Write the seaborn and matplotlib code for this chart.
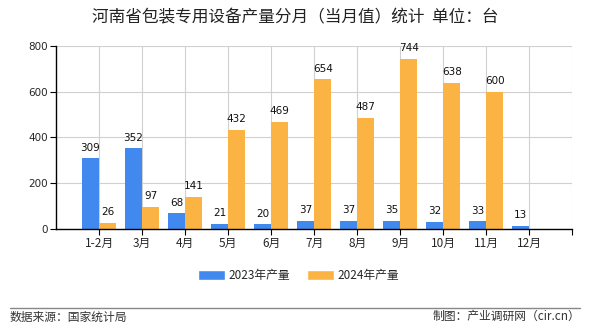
import matplotlib
matplotlib.use("Agg")
import matplotlib.pyplot as plt
import seaborn as sns
import pandas as pd
import numpy as np

categories = ["1-2月", "3月", "4月", "5月", "6月", "7月", "8月", "9月", "10月", "11月", "12月"]
series_names = ["2023年产量", "2024年产量"]
values_2023 = [309, 352, 68, 21, 20, 37, 37, 35, 32, 33, 13]
values_2024 = [26, 97, 141, 432, 469, 654, 487, 744, 638, 600, None]
y_ticks = [0, 200, 400, 600, 800]
colors = ["#4189EE", "#FBB443"]

sns.set_theme(style="white")
plt.rcParams['font.family'] = ['Noto Sans CJK SC', 'DejaVu Sans']

rows = []
for c, a, b in zip(categories, values_2023, values_2024):
    rows.append({"month": c, "series": series_names[0], "value": a})
    rows.append({"month": c, "series": series_names[1], "value": b if b is not None else np.nan})
df = pd.DataFrame(rows)

fig = plt.figure(figsize=(5.9, 3.3), dpi=100)
ax = fig.add_axes([0.095, 0.306, 0.875, 0.555])

# empty leading slot so categories sit on integer positions 1..11
order = [""] + categories
sns.barplot(data=df, x="month", y="value", hue="series", order=order,
            palette=colors, width=0.8, saturation=1, ax=ax, legend=True)

n = len(categories)
for i, cont in enumerate(ax.containers):
    for bar in cont:
        bar.set_linewidth(0)

for i, cont in enumerate(ax.containers):
    vals = values_2023 if i == 0 else values_2024
    bars = list(cont)[-n:]
    for bar, v in zip(bars, vals):
        if v is None:
            continue
        ax.text(bar.get_x() + bar.get_width() / 2, bar.get_height() + 25, str(v),
                ha="center", va="bottom", fontsize=7.5, family="DejaVu Sans", color="#111")

ax.set_xlim(0, 12)
ax.set_ylim(0, 800)
ax.set_yticks(y_ticks)
ax.set_yticklabels([str(t) for t in y_ticks], fontsize=7.5, family="DejaVu Sans")
ax.set_xticks(range(1, 12))
ax.set_xticklabels(categories, fontsize=8.5)
ax.set_xticks(range(1, 13), minor=True)
ax.set_xlabel("")
ax.set_ylabel("")

ax.grid(axis="y", color="#d0d0d0", linewidth=0.8)
for xv in range(1, 13):
    ax.axvline(xv, color="#d0d0d0", linewidth=0.8, zorder=0)
ax.set_axisbelow(True)

for s in ["top", "right"]:
    ax.spines[s].set_visible(False)
ax.spines["left"].set_color("black")
ax.spines["bottom"].set_color("black")
ax.spines["left"].set_linewidth(1)
ax.spines["bottom"].set_linewidth(1)
ax.tick_params(axis="y", left=True, length=4, width=0.8, color="black", pad=2)
ax.tick_params(axis="x", bottom=True, length=4, width=0.8, color="black", pad=2)
ax.tick_params(axis="x", which="minor", bottom=True, length=4, width=0.8, color="black")

ax.legend(loc="upper center", bbox_to_anchor=(0.47, -0.16), ncol=2, frameon=False,
          fontsize=8.5, handlelength=2.3, handleheight=1.0, columnspacing=1.4,
          handletextpad=0.3)

fig.text(0.5, 0.945, "河南省包装专用设备产量分月（当月值）统计  单位：台",
         ha="center", va="center", fontsize=12, color="#222")

fig.add_artist(plt.Line2D([0.017, 0.983], [0.068, 0.068], transform=fig.transFigure,
                          color="#888888", linewidth=1))
fig.text(0.017, 0.04, "数据来源：国家统计局", ha="left", va="center", fontsize=8.5, color="#333")
fig.text(0.983, 0.04, "制图：产业调研网（cir.cn）", ha="right", va="center", fontsize=8.5, color="#333")

fig.savefig("out.png", dpi=100)
